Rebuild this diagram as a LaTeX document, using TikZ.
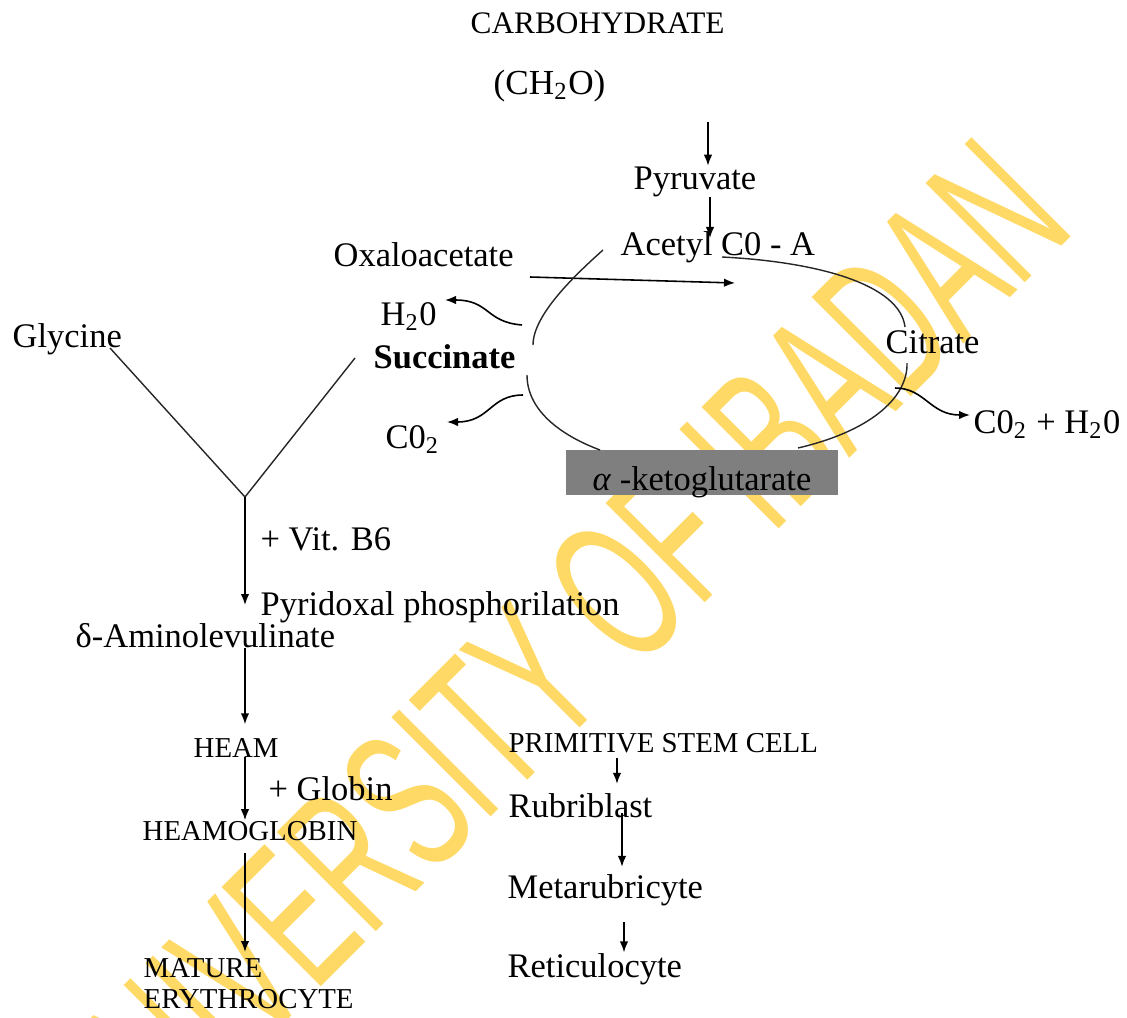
\documentclass[tikz,border=0pt]{standalone}
\usepackage{fontspec}
\setmainfont{Liberation Serif}
\newfontfamily\marksans{Liberation Sans}
\usepackage{tikz}
\usetikzlibrary{arrows.meta,calc,positioning}
\definecolor{MarkYellow}{HTML}{FFD966}
\definecolor{KetoGrey}{HTML}{7F7F7F}

\begin{document}
\begin{tikzpicture}[x=0.01cm,y=-0.01cm,
    font=\fontsize{9.8}{11}\selectfont,
    lbl/.style={inner sep=0pt,anchor=base west},
    caps/.style={lbl,font=\fontsize{8.2}{8.8}\selectfont},
    arr/.style={-{Latex[length=1.1mm,width=0.85mm]},line width=0.45pt},
    ring/.style={line width=0.4pt,draw=black!85},
    kbox/.style={fill=KetoGrey,inner sep=0pt,minimum width=2.71cm,text height=0.40cm,text depth=0.05cm,anchor=base}
  ]
  \useasboundingbox (0,0) rectangle (1127,1018);
  \node[inner sep=0pt,anchor=base west,rotate=45,text=MarkYellow,font=\marksans\fontsize{58}{62}\selectfont] (mark) at (118,1190) {\scalebox{0.57}[1]{UNIVERSITY OF IBADAN}};

  \node[lbl,font=\fontsize{8.9}{10}\selectfont] (carb) at (470,33) {CARBOHYDRATE};
  \node[lbl,font=\fontsize{10}{12}\selectfont] (chho) at (493,94) {(CH\textsubscript{2}O)};
  \node[lbl] (pyr) at (633,189) {Pyruvate};
  \node[lbl] (acetyl) at (620,255) {Acetyl C0 - A};
  \node[lbl] (oxalo) at (333,266) {Oxaloacetate};
  \node[lbl] (hho) at (380,325) {H\textsubscript{2}0};
  \node[lbl,font=\fontsize{9.8}{11}\selectfont\bfseries] (succ) at (373,368) {Succinate};
  \node[lbl] (cotwo) at (385,448) {C0\textsubscript{2}};
  \node[lbl] (citr) at (885,353) {Citrate};
  \node[lbl] (waste) at (973,433) {C0\textsubscript{2} + H\textsubscript{2}0};
  \node[kbox] (akg) at (702,490) {\textit{α} -ketoglutarate};
  \node[lbl] (gly) at (12,347) {Glycine};
  \node[lbl] (vitb) at (260,550) {+ Vit. B6};
  \node[lbl] (pyrid) at (260,615) {Pyridoxal phosphorilation};
  \node[lbl] (ala) at (75,647) {δ-Aminolevulinate};
  \node[caps] (heam) at (193,757) {HEAM};
  \node[lbl] (glob) at (268,800) {+ Globin};
  \node[caps] (hb) at (142,840) {HEAMOGLOBIN};
  \node[caps,anchor=north west,align=left] (mature) at (143,958) {MATURE\\ERYTHROCYTE};
  \node[caps] (psc) at (508,752) {PRIMITIVE STEM CELL};
  \node[lbl] (rubri) at (508,817) {Rubriblast};
  \node[lbl] (meta) at (507,898) {Metarubricyte};
  \node[lbl] (retic) at (507,977) {Reticulocyte};

  \coordinate (feed) at (708,122);
  \coordinate (acin) at (710,238);
  \coordinate (oxout) at (530,277);
  \coordinate (oxin) at (735,283);
  \coordinate (r1) at (722,257);
  \coordinate (r2) at (905,327);
  \coordinate (r3) at (907,363);
  \coordinate (r4) at (798,448);
  \coordinate (r5) at (600,450);
  \coordinate (r6) at (527,375);
  \coordinate (r7) at (533,345);
  \coordinate (r8) at (603,250);
  \coordinate (hhoout) at (522,325);
  \coordinate (hhoin) at (445,300);
  \coordinate (coout) at (523,395);
  \coordinate (coin) at (447,422);
  \coordinate (wout) at (895,388);
  \coordinate (win) at (970,415);
  \coordinate (glyend) at (110,348);
  \coordinate (succend) at (355,358);
  \coordinate (ymeet) at (245,497);
  \coordinate (alain) at (245,605);
  \coordinate (cellx) at (617,0);
  \coordinate (rubx) at (622,0);
  \coordinate (metx) at (624,0);

  \draw[arr] (feed) -- (feed |- pyr.north);
  \draw[arr] (pyr.south -| acin) -- (acin);
  \draw[arr] (oxout) -- (oxin);
  \draw[ring] (r1) .. controls (820,262) and (900,285) .. (r2);
  \draw[ring] (r3) .. controls (908,395) and (875,430) .. (r4);
  \draw[ring] (r6) .. controls (527,410) and (560,435) .. (r5);
  \draw[ring] (r7) .. controls (533,315) and (575,275) .. (r8);
  \draw[arr] (hhoout) .. controls (485,322) and (490,300) .. (hhoin);
  \draw[arr] (coout) .. controls (490,395) and (490,422) .. (coin);
  \draw[arr] (wout) .. controls (925,388) and (930,415) .. (win);
  \draw[ring] (glyend) -- (ymeet) -- (succend);
  \draw[arr] (ymeet) -- (alain);
  \draw[arr,shorten >=1.3mm] (ymeet |- ala.south) -- (ymeet |- heam.north);
  \draw[arr] (ymeet |- heam.base) -- (ymeet |- hb.north);
  \draw[arr,shorten <=1.2mm,shorten >=0.6mm] (ymeet |- hb.south) -- (ymeet |- mature.north);
  \draw[arr,shorten <=0.5mm,shorten >=0.85mm] (cellx |- psc.south) -- (cellx |- rubri.north);
  \draw[arr,shorten <=-0.4mm,shorten >=0.65mm] (rubx |- rubri.base) -- (rubx |- meta.north);
  \draw[arr,shorten <=1.6mm] (metx |- meta.south) -- (metx |- retic.north);
\end{tikzpicture}
\end{document}
